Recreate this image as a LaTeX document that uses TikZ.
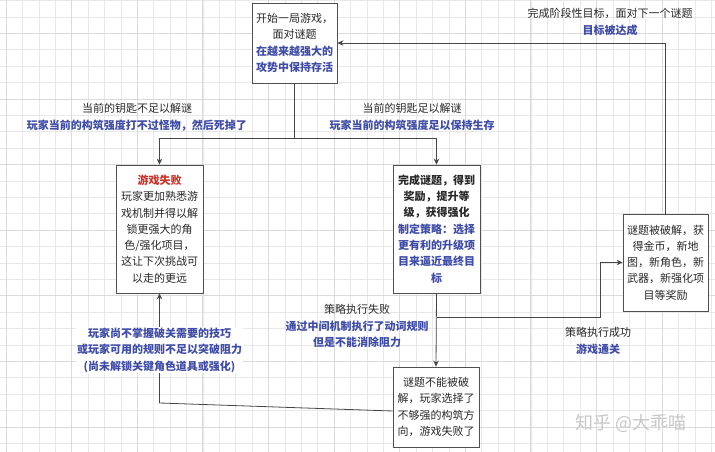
\documentclass[tikz,border=0pt]{standalone}
\usepackage{fontspec}
\setmainfont{Noto Sans CJK SC}
\usetikzlibrary{arrows.meta}
\definecolor{txtc}{RGB}{40,40,40}
\definecolor{bluec}{RGB}{62,76,168}
\definecolor{redc}{RGB}{205,50,40}
\definecolor{boxc}{RGB}{80,80,80}
\definecolor{linec}{RGB}{70,70,70}
\definecolor{minorg}{RGB}{232,232,232}
\definecolor{majorg}{RGB}{218,218,218}
\definecolor{wmc}{RGB}{200,200,200}
\tikzset{
  stepbox/.style={draw=boxc, fill=white, line width=0.8pt, align=center, inner sep=0pt,
    text=txtc, font=\fontsize{11}{16.3}\selectfont},
  conn/.style={draw=linec, line width=0.8pt},
  arr/.style={conn, -{Stealth[length=6pt,width=5.5pt]}},
  lbl/.style={align=center, inner sep=1pt, text=txtc, font=\fontsize{11}{16.5}\selectfont},
}
\newcommand{\bb}[1]{\textcolor{bluec}{\bfseries #1}}
\begin{document}
\begin{tikzpicture}[x=1pt,y=-1pt]
\useasboundingbox (0,0) rectangle (715,452);
\begin{scope}
\clip (0,0) rectangle (715,452);
\fill[white] (0,0) rectangle (715,452);
\foreach \i in {0,...,43} \draw[minorg, line width=0.6pt] ({6+16.4*\i},0) -- ({6+16.4*\i},452);
\foreach \i in {0,...,27} \draw[minorg, line width=0.6pt] (0,{0.5+16.4*\i}) -- (715,{0.5+16.4*\i});
\foreach \i in {0,...,10} \draw[majorg, line width=0.7pt] ({6+65.6*\i},0) -- ({6+65.6*\i},452);
\foreach \i in {0,...,6} \draw[majorg, line width=0.7pt] (0,{33.3+65.6*\i}) -- (715,{33.3+65.6*\i});
\end{scope}

% boxes
\node[stepbox, minimum width=85pt, minimum height=80pt] (b1) at (294.5,43)
  {开始一局游戏，\\面对谜题\\\bb{在越来越强大的}\\\bb{攻势中保持存活}};
\node[stepbox, minimum width=87pt, minimum height=128pt] (b2) at (159.5,229)
  {\textcolor{redc}{\bfseries 游戏失败}\\玩家更加熟悉游\\戏机制并得以解\\锁更强大的角\\色/强化项目，\\这让下次挑战可\\以走的更远};
\node[stepbox, minimum width=87pt, minimum height=128pt] (b3) at (436.5,229)
  {\bfseries 完成谜题，得到\\\bfseries 奖励，提升等\\\bfseries 级，获得强化\\\bb{制定策略：选择}\\\bb{更有利的升级项}\\\bb{目来逼近最终目}\\\bb{标}};
\node[stepbox, minimum width=85pt, minimum height=97pt] (b4) at (665.5,262.5)
  {谜题被破解，获\\得金币，新地\\图，新角色，新\\武器，新强化项\\目等奖励};
\node[stepbox, minimum width=86pt, minimum height=80pt] (b5) at (436,407)
  {谜题不能被破\\解，玩家选择了\\不够强的构筑方\\向，游戏失败了};

% connectors
\coordinate (j1) at (294.5,138);
\coordinate (j2) at (436.5,317);
\coordinate (k1) at (600,317);
\coordinate (k2) at (159.5,403);
\draw[conn] (b1.south) -- (j1);
\draw[arr] (j1) -| (b2.north);
\draw[arr] (j1) -| (b3.north);
\draw[arr] (b3.south) -- (b5.north);
\draw[arr] (j2) -- (k1) |- (b4.west);
\draw[arr] (b4.north) |- (b1.east);
\draw[arr] ([yshift=-4pt]b5.west) -- (k2) -- (b2.south);

% labels
\node[lbl] (l1) at (137,117) {当前的钥匙不足以解谜\\\bb{玩家当前的构筑强度打不过怪物，然后死掉了}};
\node[lbl] (l2) at (412,117) {当前的钥匙足以解谜\\\bb{玩家当前的构筑强度足以保持生存}};
\node[lbl] (l3) at (610,22) {完成阶段性目标，面对下一个谜题\\\bb{目标被达成}};
\node[lbl, fill=white] (l4) at (159.5,350) {\bb{玩家尚不掌握破关需要的技巧}\\\bb{或玩家可用的规则不足以突破阻力}\\\bb{(尚未解锁关键角色道具或强化)}};
\node[lbl] (l5) at (357,326) {策略执行失败\\\bb{通过中间机制执行了动词规则}\\\bb{但是不能消除阻力}};
\node[lbl] (l6) at (598,341) {策略执行成功\\\bb{游戏通关}};
\node[text=wmc, font=\fontsize{18}{20}\selectfont, inner sep=0pt] (wm) at (631,423) {知乎\ @大乖喵};
\end{tikzpicture}
\end{document}
